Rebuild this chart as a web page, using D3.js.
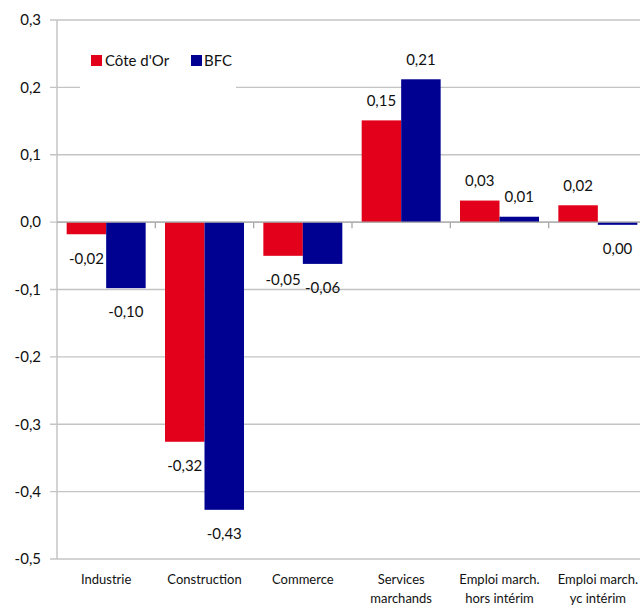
<!DOCTYPE html>
<html><head><meta charset="utf-8">
<script src="https://cdn.jsdelivr.net/npm/d3@7"></script>
<style>body{margin:0;background:#fff}svg{display:block;font-family:Lato,"Open Sans",sans-serif}</style>
</head><body><svg id="c" width="640" height="605"></svg>
<script>
const categories = [["Industrie"],["Construction"],["Commerce"],["Services","marchands"],["Emploi march.","hors intérim"],["Emploi march.","yc intérim"]];
const seriesNames = ["Côte d'Or","BFC"];
const coteDOr = [-0.018,-0.326,-0.050,0.151,0.032,0.025];
const bfc = [-0.098,-0.427,-0.062,0.212,0.008,-0.004];
const coteLabels = ["-0,02","-0,32","-0,05","0,15","0,03","0,02"];
const bfcLabels = ["-0,10","-0,43","-0,06","0,21","0,01","0,00"];
const yTicks = [0.3,0.2,0.1,0.0,-0.1,-0.2,-0.3,-0.4,-0.5];
const colors = ["#e2001a","#000091"];

(function(){
const svg = d3.select("#c");
const mL = 57, mR = 647, mT = 20, mB = 559;
const y = d3.scaleLinear().domain([-0.5,0.3]).range([mB,mT]);
const x0 = d3.scaleBand().domain(d3.range(categories.length)).range([mL,mR]).paddingInner(0).paddingOuter(0);
const x1 = d3.scaleBand().domain([0,1]).range([0,x0.bandwidth()]).paddingOuter(0.245).paddingInner(0);
const fmt = v => d3.format(".1f")(v).replace(".",",").replace("−","-");

svg.append("g").selectAll("line").data(yTicks).join("line")
  .attr("x1",mL-7).attr("x2",640).attr("y1",d=>y(d)).attr("y2",d=>y(d))
  .attr("stroke","#c4c4c4").attr("stroke-width",1.3);
svg.append("g").selectAll("text").data(yTicks).join("text")
  .attr("x",41).attr("y",d=>y(d)).attr("dy","0.35em").attr("text-anchor","end")
  .attr("font-size",15).attr("fill","#111").text(d=>fmt(d));
svg.append("line").attr("x1",mL).attr("x2",mL).attr("y1",mT).attr("y2",mB).attr("stroke","#c4c4c4").attr("stroke-width",1.5);

svg.append("rect").attr("x",80).attr("y",40).attr("width",156).attr("height",52).attr("fill","#fff");

const data = [coteDOr,bfc];
const labs = [coteLabels,bfcLabels];
data.forEach((arr,s)=>{
  svg.append("g").selectAll("rect").data(arr).join("rect")
    .attr("x",(d,i)=>x0(i)+x1(s)).attr("width",x1.bandwidth())
    .attr("y",d=>y(Math.max(0,d))).attr("height",d=>Math.abs(y(d)-y(0)))
    .attr("fill",colors[s]);
});
svg.append("line").attr("x1",mL).attr("x2",640).attr("y1",y(0)).attr("y2",y(0)).attr("stroke","#a8a8a8").attr("stroke-width",1.3);
svg.append("g").selectAll("line").data(d3.range(1,categories.length)).join("line")
  .attr("x1",i=>x0(i)).attr("x2",i=>x0(i)).attr("y1",y(0)).attr("y2",y(0)+6).attr("stroke","#a8a8a8").attr("stroke-width",1.3);

data.forEach((arr,s)=>{
  svg.append("g").selectAll("text").data(arr).join("text")
    .attr("x",(d,i)=>x0(i)+x1(s)+x1.bandwidth()/2)
    .attr("y",d=> d>=0 ? y(d)-20 : y(d)+24).attr("dy","0.35em")
    .attr("text-anchor","middle").attr("font-size",15).attr("fill","#111")
    .text((d,i)=>labs[s][i]);
});

const cl = svg.append("g");
categories.forEach((lines,i)=>{
  lines.forEach((t,j)=>{
    cl.append("text").attr("x",x0(i)+x0.bandwidth()/2).attr("y",584+j*19)
      .attr("text-anchor","middle").attr("font-size",13).attr("fill","#111").text(t);
  });
});

const lg = svg.append("g");
[[91,105],[191,204]].forEach((p,s)=>{
  lg.append("rect").attr("x",p[0]).attr("y",55).attr("width",11).attr("height",11).attr("fill",colors[s]);
  lg.append("text").attr("x",p[1]).attr("y",66).attr("font-size",15).attr("fill","#111").text(seriesNames[s]);
});
})();
</script></body></html>
